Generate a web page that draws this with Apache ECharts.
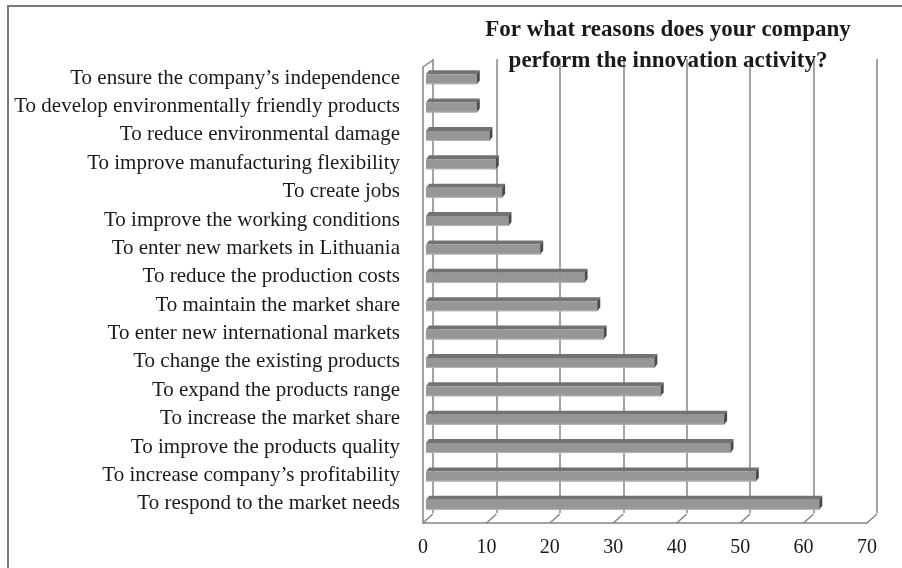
<!DOCTYPE html>
<html><head><meta charset="utf-8">
<script src="https://cdn.jsdelivr.net/npm/echarts@6/dist/echarts.min.js"></script>
<style>html,body{margin:0;padding:0;background:#fff}#c{width:902px;height:568px}</style>
</head><body><div id="c"></div><script>
const categories = [
  "To ensure the company\u2019s independence",
  "To develop environmentally friendly products",
  "To reduce environmental damage",
  "To improve manufacturing flexibility",
  "To create jobs",
  "To improve the working conditions",
  "To enter new markets in Lithuania",
  "To reduce the production costs",
  "To maintain the market share",
  "To enter new international markets",
  "To change the existing products",
  "To expand the products range",
  "To increase the market share",
  "To improve the products quality",
  "To increase company\u2019s profitability",
  "To respond to the market needs"
];
const values = [8, 8, 10, 11, 12, 13, 18, 25, 27, 28, 36, 37, 47, 48, 52, 62];
const xTicks = [0, 10, 20, 30, 40, 50, 60, 70];
const titleLines = ["For what reasons does your company", "perform the innovation activity?"];

const SERIF = "'Liberation Serif', 'DejaVu Serif', serif";
const LINE = '#858585';

function renderBar(params, api) {
  const v = api.value(0), c = api.value(1);
  const p0 = api.coord([0, c]);
  const p1 = api.coord([v, c]);
  const h = 10, d = 3, dy = 4;
  const yTop = p0[1] - h / 2 + 1, yBot = yTop + h;
  const x0 = p0[0], x1 = p1[0];
  return {
    type: 'group',
    children: [
      { type: 'polygon', shape: { points: [[x0, yTop], [x0 + d, yTop - dy], [x1 + d, yTop - dy], [x1, yTop]] }, style: { fill: '#727272' } },
      { type: 'rect', shape: { x: x0, y: yTop, width: x1 - x0, height: h }, style: { fill: '#969696' } },
      { type: 'line', shape: { x1: x0, y1: yBot - 0.5, x2: x1, y2: yBot - 0.5 }, style: { stroke: '#b5b5b5', lineWidth: 1 } },
      { type: 'polygon', shape: { points: [[x1, yTop], [x1 + d, yTop - dy], [x1 + d, yBot - dy], [x1, yBot]] }, style: { fill: '#4a4a4a' } }
    ]
  };
}

function renderFloor(params, api) {
  const t = api.value(0);
  const pb = api.coord([t, 0]);
  const children = [
    { type: 'line', shape: { x1: pb[0], y1: pb[1], x2: pb[0] + 10, y2: pb[1] - 9 }, style: { stroke: LINE, lineWidth: 1.5 } }
  ];
  if (t === 0) {
    const pt = api.coord([0, 1]);
    children.push({ type: 'line', shape: { x1: pt[0], y1: pt[1], x2: pt[0] + 10, y2: pt[1] - 7 }, style: { stroke: LINE, lineWidth: 1.5 } });
  }
  return { type: 'group', children };
}

const chart = echarts.init(document.getElementById('c'), null, { renderer: 'canvas' });
chart.setOption({
  animation: false,
  backgroundColor: '#fff',
  title: {
    text: titleLines.join('\n'),
    left: 668, top: 15,
    textAlign: 'center',
    padding: 0,
    textStyle: { fontFamily: SERIF, fontWeight: 'bold', fontSize: 23, lineHeight: 31, color: '#1a1a1a' }
  },
  graphic: [
    { type: 'rect', shape: { x: 8, y: 6, width: 900, height: 570 }, style: { fill: 'none', stroke: '#7a7a7a', lineWidth: 2 }, z: -10 }
  ],
  grid: [
    { left: 433, right: 25, top: 59, bottom: 55 },
    { left: 423, right: 35, top: 67, bottom: 45 },
    { left: 426, right: 32, top: 64, bottom: 50 }
  ],
  xAxis: [
    { gridIndex: 0, type: 'value', min: 0, max: 70, interval: 10,
      axisLine: { show: false }, axisTick: { show: false }, axisLabel: { show: false },
      splitLine: { show: true, showMinLine: true, showMaxLine: true, lineStyle: { color: LINE, width: 1.5 } } },
    { gridIndex: 1, type: 'value', min: 0, max: 70, interval: 10,
      axisLine: { show: true, lineStyle: { color: LINE, width: 1.5 } }, axisTick: { show: false },
      axisLabel: { margin: 15, fontFamily: SERIF, fontSize: 20, color: '#1a1a1a' },
      splitLine: { show: false } },
    { gridIndex: 2, type: 'value', min: 0, max: 70, interval: 10, show: false }
  ],
  yAxis: [
    { gridIndex: 0, type: 'value', min: 0, max: 1, show: false },
    { gridIndex: 1, type: 'value', min: 0, max: 1,
      axisLine: { show: true, lineStyle: { color: LINE, width: 1.5 } }, axisTick: { show: false },
      axisLabel: { show: false }, splitLine: { show: false } },
    { gridIndex: 2, type: 'category', data: categories, inverse: true,
      axisLine: { show: false }, axisTick: { show: false },
      axisLabel: { margin: 26, fontFamily: SERIF, fontSize: 21, color: '#1a1a1a' } }
  ],
  series: [
    { type: 'custom', xAxisIndex: 1, yAxisIndex: 1, data: xTicks.map(t => [t]), encode: { x: 0 }, renderItem: renderFloor, z: 1 },
    { type: 'custom', xAxisIndex: 2, yAxisIndex: 2, data: values.map((v, i) => [v, i]), encode: { x: 0, y: 1 }, renderItem: renderBar, z: 3 }
  ]
});
</script></body></html>
